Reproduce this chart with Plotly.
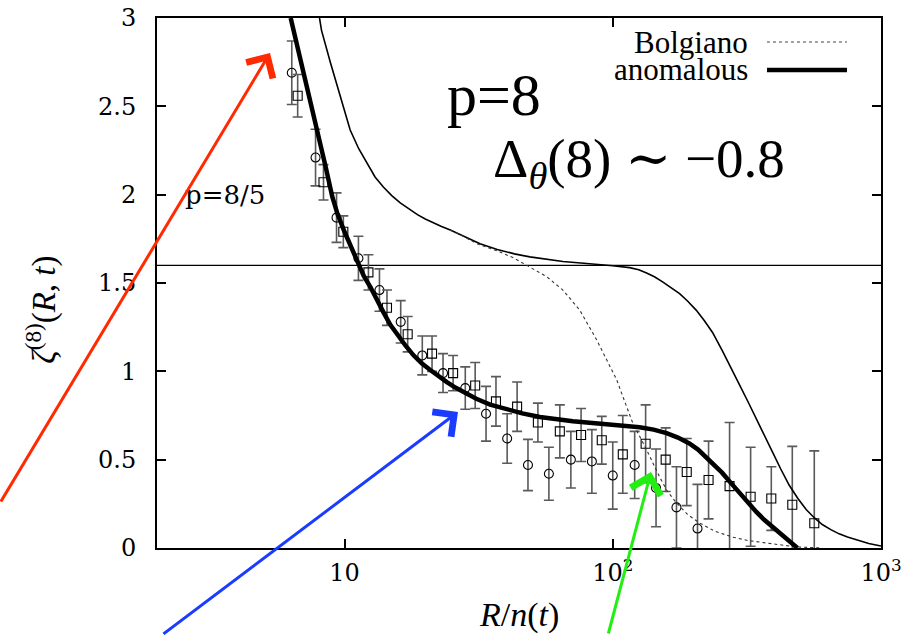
import plotly.graph_objects as go

# ---------------- data ----------------
circ_x = [6.36, 7.80, 9.34, 11.27, 13.5, 16.2, 19.5, 23.3, 28.2, 33.7, 40.4, 48.3, 57.8, 69.8, 83.6, 100, 120.7, 145, 172.8, 207]
circ_y = [2.69, 2.21, 1.87, 1.64, 1.46, 1.28, 1.09, 0.99, 0.905, 0.76, 0.62, 0.47, 0.42, 0.50, 0.49, 0.41, 0.47, 0.34, 0.23, 0.11]
circ_e = [0.18, 0.16, 0.14, 0.125, 0.12, 0.12, 0.11, 0.11, 0.12, 0.155, 0.14, 0.145, 0.15, 0.16, 0.18, 0.19, 0.19, 0.22, 0.23, 0.25]

sq_x = [6.69, 8.35, 9.9, 12.28, 14.4, 17.2, 21.2, 25.4, 30.7, 36.7, 44.0, 52.6, 63.5, 76.2, 91.0, 109, 132.6, 157.5, 188.7, 227.6, 272.6, 326.6, 390, 467, 564]
sq_y = [2.56, 2.07, 1.79, 1.56, 1.36, 1.21, 1.10, 0.99, 0.92, 0.83, 0.80, 0.71, 0.66, 0.64, 0.61, 0.53, 0.59, 0.50, 0.43, 0.385, 0.35, 0.29, 0.28, 0.245, 0.14]
sq_e = [0.12, 0.10, 0.09, 0.10, 0.10, 0.10, 0.10, 0.10, 0.13, 0.14, 0.14, 0.11, 0.15, 0.15, 0.135, 0.22, 0.22, 0.18, 0.19, 0.22, 0.36, 0.28, 0.18, 0.33, 0.41]

anom_x = [6.30, 6.46, 7.0, 7.5, 7.94, 8.5, 9.0, 9.42, 10.0, 10.6, 11.18, 11.8, 12.49, 13.2, 13.96, 14.8, 15.74, 16.9, 18.05, 19.4, 20.88, 22.5, 24.15, 25.9, 27.7, 31.0, 34.9, 40.4, 46.0, 53.5, 62, 71, 82, 95, 110, 126, 142, 158.7, 175, 193, 208, 223, 240, 256, 275, 297, 320, 343, 367, 393, 440, 488]
anom_y = [3.00, 2.93, 2.71, 2.53, 2.37, 2.16, 1.99, 1.89, 1.79, 1.70, 1.613, 1.54, 1.477, 1.40, 1.335, 1.265, 1.206, 1.145, 1.092, 1.045, 1.0075, 0.97, 0.938, 0.908, 0.883, 0.845, 0.812, 0.785, 0.762, 0.742, 0.728, 0.718, 0.709, 0.700, 0.693, 0.684, 0.670, 0.650, 0.625, 0.592, 0.557, 0.515, 0.47, 0.425, 0.37, 0.31, 0.254, 0.204, 0.16, 0.12, 0.055, 0.0]

thin_x = [8.07, 8.21, 8.87, 9.66, 10.5, 11.3, 12.18, 13.0, 13.96, 15.0, 16.14, 17.4, 18.7, 20.0, 21.4, 23.0, 24.8, 27.7, 32.0, 37.1, 43.0, 49.1, 57, 65.2, 76, 87.2, 100, 115.6, 125, 133.7, 143, 153.4, 165, 177.5, 190, 205, 220, 235.5, 256.6, 275, 296.6, 320, 342.7, 367, 393.4, 422, 455, 490, 526, 565, 604, 650, 698, 750, 807, 900, 1000]
thin_y = [3.0, 2.93, 2.745, 2.553, 2.366, 2.26, 2.17, 2.10, 2.043, 1.995, 1.953, 1.917, 1.887, 1.862, 1.840, 1.820, 1.800, 1.765, 1.722, 1.690, 1.665, 1.648, 1.633, 1.622, 1.613, 1.606, 1.598, 1.587, 1.575, 1.557, 1.535, 1.506, 1.475, 1.440, 1.398, 1.345, 1.285, 1.220, 1.115, 1.02, 0.925, 0.825, 0.735, 0.64, 0.545, 0.45, 0.355, 0.28, 0.218, 0.17, 0.133, 0.104, 0.08, 0.062, 0.046, 0.025, 0.011]

bolg_x = [24.8, 27.7, 31.2, 37.1, 43.0, 49.1, 56.9, 65.2, 75.3, 87.2, 95.1, 103.5, 108.9, 118.7, 133.8, 149.5, 160, 172.9, 190, 210.6, 240, 279.3, 320, 373, 430, 483, 600]
bolg_y = [1.80, 1.765, 1.722, 1.682, 1.64, 1.59, 1.534, 1.46, 1.347, 1.177, 1.06, 0.951, 0.86, 0.708, 0.555, 0.402, 0.32, 0.255, 0.19, 0.142, 0.095, 0.062, 0.042, 0.028, 0.015, 0.006, 0.0]

ref_level = 1.6
x_span = [2, 1000]

y_ticks = [0, 0.5, 1, 1.5, 2, 2.5, 3]
y_ticktext = ["0", "0.5", "1", "1.5", "2", "2.5", "3"]
x_ticks = [10, 100, 1000]
x_ticktext = ["10", "10<sup>2</sup>", "10<sup>3</sup>"]

FONT = "Liberation Serif, DejaVu Serif, serif"
FONT_W = "DejaVu Serif"

fig = go.Figure()

fig.add_trace(go.Scatter(x=x_span, y=[ref_level, ref_level], mode="lines",
                         line=dict(color="black", width=1.2), showlegend=False, hoverinfo="skip"))

fig.add_trace(go.Scatter(x=circ_x, y=circ_y, mode="markers",
                         marker=dict(symbol="circle-open", size=9, color="black", line=dict(width=1.1)),
                         error_y=dict(type="data", array=circ_e, visible=True, color="#5a5a5a", thickness=1.6, width=5),
                         showlegend=False))
fig.add_trace(go.Scatter(x=sq_x, y=sq_y, mode="markers",
                         marker=dict(symbol="square-open", size=9, color="black", line=dict(width=1.1)),
                         error_y=dict(type="data", array=sq_e, visible=True, color="#5a5a5a", thickness=1.6, width=5),
                         showlegend=False))

fig.add_trace(go.Scatter(x=thin_x, y=thin_y, mode="lines", line=dict(color="black", width=1.6),
                         showlegend=False))
fig.add_trace(go.Scatter(x=bolg_x, y=bolg_y, mode="lines", line=dict(color="#333333", width=1.1, dash="dot"),
                         showlegend=False))
fig.add_trace(go.Scatter(x=anom_x, y=anom_y, mode="lines", line=dict(color="black", width=4.5),
                         showlegend=False))

axis_common = dict(showline=True, linecolor="black", linewidth=2, mirror="ticks", ticks="inside",
                   ticklen=9, tickwidth=1.5, tickcolor="black", showgrid=False, zeroline=False,
                   automargin=False, tickfont=dict(family=FONT_W, size=24, color="black"))

fig.update_xaxes(type="log", range=[0.30103, 3], tickvals=x_ticks, ticktext=x_ticktext, ticklabelstandoff=2, **axis_common)
fig.update_yaxes(range=[0, 3], tickvals=y_ticks, ticktext=y_ticktext, ticklabelstandoff=14, **axis_common)

ann = []
# axis titles
ann.append(dict(text="<i>R</i>/<i>n</i>(<i>t</i>)", xref="paper", yref="paper", x=0.5, y=-0.127,
                xanchor="center", yanchor="middle", showarrow=False, font=dict(family=FONT, size=34, color="black")))
ann.append(dict(text="<i>ζ</i><sup>(8)</sup>(<i>R</i>, <i>t</i>)", xref="paper", yref="paper", x=-0.160, y=0.45,
                xanchor="center", yanchor="middle", textangle=-90, showarrow=False,
                font=dict(family=FONT, size=33, color="black")))
# texts inside
ann.append(dict(text="p=8/5", xref="paper", yref="y", x=0.036, y=2.0, xanchor="left", yanchor="middle",
                showarrow=False, font=dict(family=FONT_W, size=26, color="black")))
ann.append(dict(text="p=8", xref="paper", yref="paper", x=0.398, y=0.855, xanchor="left", yanchor="middle",
                showarrow=False, font=dict(family=FONT, size=60, color="black")))
ann.append(dict(text="Δ<sub><i>θ</i></sub>(8) ∼ −0.8", xref="paper", yref="paper", x=0.462, y=0.728,
                xanchor="left", yanchor="middle", showarrow=False, font=dict(family=FONT, size=55, color="black")))
# legend
ann.append(dict(text="Bolgiano", xref="paper", yref="paper", x=0.819, y=0.9547, xanchor="right", yanchor="middle",
                showarrow=False, font=dict(family=FONT, size=31, color="black")))
ann.append(dict(text="anomalous", xref="paper", yref="paper", x=0.819, y=0.9019, xanchor="right", yanchor="middle",
                showarrow=False, font=dict(family=FONT, size=31, color="black")))
# arrows
for (tx, ty, axp, ayp, col) in [(0.1561, 0.934, -275, 450, "#ff2a00"),
                                 (0.4157, 0.2566, -296, 233, "#1a3cff"),
                                 (0.6823, 0.1434, -43, 175, "#22ee11")]:
    ann.append(dict(text="", xref="paper", yref="paper", x=tx, y=ty, ax=axp, ay=ayp, axref="pixel", ayref="pixel",
                    showarrow=True, arrowhead=4, arrowsize=2.0, arrowwidth=3, arrowcolor=col))

shapes = [
    dict(type="line", xref="paper", yref="paper", x0=0.8425, x1=0.953, y0=0.9547, y1=0.9547,
         line=dict(color="#444444", width=1.1, dash="dot")),
    dict(type="line", xref="paper", yref="paper", x0=0.8425, x1=0.953, y0=0.9019, y1=0.9019,
         line=dict(color="black", width=4.5)),
]

fig.update_layout(width=912, height=635, margin=dict(l=157, r=31, t=18, b=87, autoexpand=False),
                  plot_bgcolor="white", paper_bgcolor="white", annotations=ann, shapes=shapes,
                  font=dict(family=FONT, color="black"), showlegend=False)

fig.write_html("out.html")
